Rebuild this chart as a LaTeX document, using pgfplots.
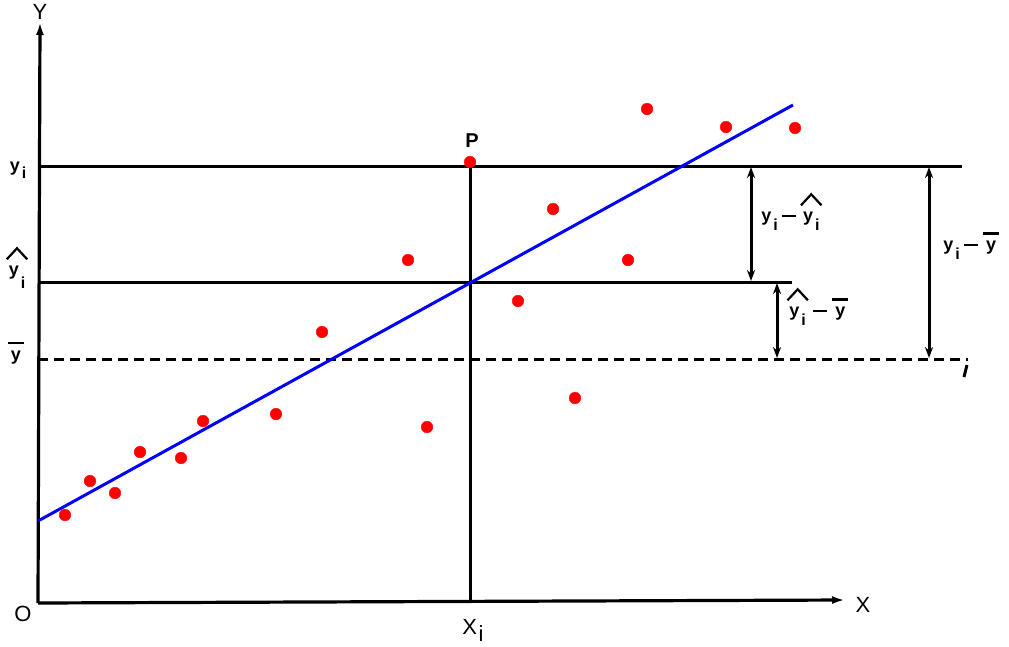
\documentclass[border=0pt]{standalone}
\usepackage{pgfplots}
\pgfplotsset{compat=1.18}
\usepackage{fontspec}
\setmainfont{Liberation Sans}
\usetikzlibrary{arrows.meta}
\newcommand\sub[2][7pt]{\kern1.5pt\raisebox{-#1}{#2}}
\newcommand\si[1][9pt]{\kern2pt\raisebox{-#1}{\fontsize{16}{17}\selectfont i}}
\newcommand\yi[1][9pt]{y\si[#1]}
\newcommand\mn{\kern4pt\rule[4.5pt]{14pt}{2.6pt}\kern4pt}
\newcommand\hatit[1]{\tikz[baseline=(t.base)]{\node[inner sep=0pt,outer sep=0pt](t){#1};
  \draw[line width=2.2pt, line join=miter] ([xshift=-2pt,yshift=7pt]t.north west) -- ([yshift=18pt]t.north) -- ([xshift=2pt,yshift=7pt]t.north east);}}
\newcommand\barit[1]{\tikz[baseline=(t.base)]{\node[inner sep=0pt,outer sep=0pt](t){#1};
  \draw[line width=2.6pt] ([xshift=-3pt,yshift=8pt]t.north west) -- ([xshift=3pt,yshift=8pt]t.north east);}}
\tikzset{
  lab/.style={font=\fontsize{18}{20}\selectfont\bfseries, inner sep=0pt},
  caplab/.style={font=\fontsize{22}{24}\selectfont, inner sep=0pt},
  dbl/.style={black, line width=3pt, {Stealth[length=11pt,width=8pt]}-{Stealth[length=11pt,width=8pt]}}}
\begin{document}
\begin{tikzpicture}
\begin{axis}[name=ax, width=1009pt, height=646pt, scale only axis,
  xmin=0, xmax=1009, ymin=0, ymax=646, y dir=reverse,
  hide axis, clip=false]
% axes
\addplot[black, line width=3.2pt, -{Latex[length=13pt,width=8pt]}] coordinates {(38,603)(845,600)};
\addplot[black, line width=3.2pt, -{Latex[length=13pt,width=8pt]}] coordinates {(38,603)(40,22)};
% reference lines
\addplot[black, line width=3pt] coordinates {(38,166)(962,166)};
\addplot[black, line width=3pt] coordinates {(38,282)(792,282)};
\addplot[black, line width=3pt, dash pattern=on 10pt off 6pt] coordinates {(38,359)(968,359)};
\addplot[black, line width=3pt] coordinates {(967,365)(964,377)};
\addplot[black, line width=3pt] coordinates {(470,166)(470,603)};
% regression line
\addplot[blue, line width=3pt] coordinates {(38,521)(793,105)};
% observations
\addplot[only marks, mark=*, mark size=5.8pt, color=red, mark options={draw=red, fill=red}] coordinates {
  (65,515)(90,481)(115,493)(140,452)(181,458)(203,421)(276,414)(322,332)
  (408,260)(427,427)(470,162)(518,301)(553,209)(575,398)(628,260)
  (647,109)(726,127)(795,128)};
% deviations
\addplot[dbl] coordinates {(751,167)(751,281)};
\addplot[dbl] coordinates {(777,283)(777,358)};
\addplot[dbl] coordinates {(929,167)(929,358)};
% labels
\node[caplab] at (axis cs:40,12) {Y};
\node[caplab] at (axis cs:863,605) {X};
\node[caplab] at (axis cs:23,614) {O};
\node[caplab] at (axis cs:473,630) {X\sub{i}};
\node[caplab,font=\fontsize{20}{22}\selectfont\bfseries] at (axis cs:472,141) {P};
\node[lab] at (axis cs:18,170) {\yi[7pt]};
\node[lab] at (axis cs:17,268) {\hatit{\yi[13pt]}};
\node[lab] at (axis cs:16,353) {\barit{y}};
\node[lab] at (axis cs:792,212) {\yi\mn\hatit{\yi}};
\node[lab] at (axis cs:818,307) {\hatit{\yi}\mn\barit{y}};
\node[lab] at (axis cs:972,246) {\yi\mn\barit{y}};
\end{axis}
\pgfresetboundingbox
\useasboundingbox (ax.south west) rectangle (ax.north east);
\end{tikzpicture}
\end{document}
